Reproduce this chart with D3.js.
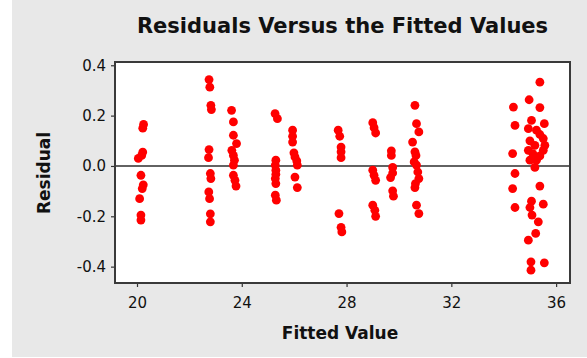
<!DOCTYPE html>
<html>
<head>
<meta charset="utf-8">
<script src="https://cdn.jsdelivr.net/npm/d3@7/dist/d3.min.js"></script>
<style>
  html, body { margin: 0; padding: 0; background: #ffffff; }
  svg { display: block; }
  text { font-family: "DejaVu Sans", Verdana, sans-serif; fill: #111; }
</style>
</head>
<body>
<svg id="chart" width="587" height="358"></svg>
<script>
// Fitted values and their residuals, one entry per observation
const fitted = [
  20.25, 20.22, 20.22, 20.18, 20.05, 20.15, 20.24, 20.20, 20.10, 20.15, 20.15,
  22.75, 22.78, 22.82, 22.84, 22.75, 22.73, 22.80, 22.82, 22.74, 22.77, 22.80, 22.80,
  23.61, 23.68, 23.68, 23.80, 23.62, 23.68, 23.72, 23.68, 23.68, 23.74, 23.78,
  25.27, 25.36, 25.30, 25.28, 25.30, 25.30, 25.28, 25.30, 25.28, 25.32,
  25.94, 25.94, 25.94, 25.99, 26.03, 26.10, 26.12, 26.03, 26.12,
  27.68, 27.74, 27.79, 27.79, 27.79, 27.71, 27.79, 27.82,
  29.00, 29.05, 29.11, 29.00, 29.05, 29.11, 29.00, 29.08, 29.11,
  29.71, 29.71, 29.76, 29.76, 29.68, 29.76, 29.79,
  30.61, 30.67, 30.76, 30.52, 30.61, 30.65, 30.58, 30.67, 30.72, 30.76, 30.63, 30.61, 30.67, 30.76,
  34.37, 34.43, 34.34, 34.43, 34.34, 34.43,
  35.38, 34.97, 35.38,
  35.06, 35.55, 34.94, 35.25, 35.38, 35.51, 35.00, 35.19, 35.57, 34.94, 35.51, 35.11, 35.38, 35.00, 35.25, 35.19,
  35.38, 35.51, 35.06, 35.00, 35.08, 35.32, 35.22, 34.94, 35.04, 35.04, 35.55
];
const residual = [
  0.165, 0.150, 0.055, 0.042, 0.030, -0.037, -0.075, -0.090, -0.130, -0.195, -0.215,
  0.343, 0.313, 0.241, 0.224, 0.065, 0.033, -0.030, -0.050, -0.103, -0.130, -0.190, -0.222,
  0.221, 0.175, 0.122, 0.089, 0.062, 0.042, 0.023, 0.003, -0.037, -0.057, -0.080,
  0.208, 0.188, 0.023, 0.003, -0.017, -0.033, -0.050, -0.070, -0.116, -0.136,
  0.142, 0.118, 0.095, 0.052, 0.036, 0.020, 0.003, -0.044, -0.086,
  0.142, 0.118, 0.075, 0.056, 0.033, -0.189, -0.244, -0.262,
  0.172, 0.152, 0.131, -0.017, -0.037, -0.057, -0.156, -0.176, -0.200,
  0.060, 0.042, -0.006, -0.028, -0.046, -0.099, -0.120,
  0.241, 0.168, 0.135, 0.095, 0.056, 0.042, 0.016, 0.003, -0.024, -0.050, -0.070, -0.086, -0.156, -0.189,
  0.234, 0.161, 0.049, -0.030, -0.090, -0.165,
  0.333, 0.263, 0.232,
  0.181, 0.168, 0.148, 0.142, 0.125, 0.109, 0.100, 0.082, 0.082, 0.062, 0.062, 0.049, 0.040, 0.023, 0.023, -0.006,
  -0.080, -0.152, -0.140, -0.165, -0.195, -0.222, -0.268, -0.295, -0.381, -0.414, -0.385
];
const xTicks = [20, 24, 28, 32, 36];
const yTicks = [-0.4, -0.2, 0.0, 0.2, 0.4];

const titleText = "Residuals Versus the Fitted Values";
const xLabel = "Fitted Value";
const yLabel = "Residual";

const W = 587, H = 358;
const margin = { top: 62, right: 17, bottom: 75, left: 115 };
const plotW = W - margin.left - margin.right;
const plotH = H - margin.top - margin.bottom;

const svg = d3.select("#chart");

// grey panel behind the whole graph
svg.append("rect")
  .attr("x", 12).attr("y", 0)
  .attr("width", W - 12).attr("height", H - 1)
  .attr("fill", "#e8e8e8");

const g = svg.append("g").attr("transform", `translate(${margin.left},${margin.top})`);

const x = d3.scaleLinear().domain([19.16, 36.53]).range([0, plotW]);
const y = d3.scaleLinear().domain([-0.465, 0.413]).range([plotH, 0]);

// data region
g.append("rect")
  .attr("width", plotW).attr("height", plotH)
  .attr("fill", "#ffffff");

// reference line at zero
g.append("line")
  .attr("x1", 0).attr("x2", plotW)
  .attr("y1", y(0)).attr("y2", y(0))
  .attr("stroke", "#626262").attr("stroke-width", 2);

// residual points
g.append("g").selectAll("circle")
  .data(fitted.map((f, i) => [f, residual[i]]))
  .join("circle")
  .attr("cx", d => x(d[0]))
  .attr("cy", d => y(d[1]))
  .attr("r", 4.4)
  .attr("fill", "#ff0000");

// axes
const xAxis = g.append("g")
  .attr("transform", `translate(0,${plotH})`)
  .call(d3.axisBottom(x).tickValues(xTicks).tickSize(4).tickPadding(10).tickFormat(d3.format("d")));
const yAxis = g.append("g")
  .call(d3.axisLeft(y).tickValues(yTicks).tickSize(4).tickPadding(5).tickFormat(d => d.toFixed(1)));

[xAxis, yAxis].forEach(a => {
  a.select(".domain").remove();
  a.selectAll(".tick line").attr("stroke", "#333").attr("stroke-width", 1.2);
  a.selectAll(".tick text")
    .attr("fill", "#222")
    .style("font-family", "'DejaVu Sans', Verdana, sans-serif")
    .style("font-size", "15px");
});

// frame
g.append("rect")
  .attr("width", plotW).attr("height", plotH)
  .attr("fill", "none")
  .attr("stroke", "#3a3a3a").attr("stroke-width", 2);

// titles
svg.append("text")
  .attr("x", margin.left + plotW / 2).attr("y", 33)
  .attr("text-anchor", "middle")
  .style("font-size", "21px").style("font-weight", "bold")
  .text(titleText);

svg.append("text")
  .attr("x", 340).attr("y", 339)
  .attr("text-anchor", "middle")
  .style("font-size", "17px").style("font-weight", "bold")
  .text(xLabel);

svg.append("text")
  .attr("transform", "translate(50,173) rotate(-90)")
  .attr("text-anchor", "middle")
  .style("font-size", "17px").style("font-weight", "bold")
  .text(yLabel);
</script>
</body>
</html>
